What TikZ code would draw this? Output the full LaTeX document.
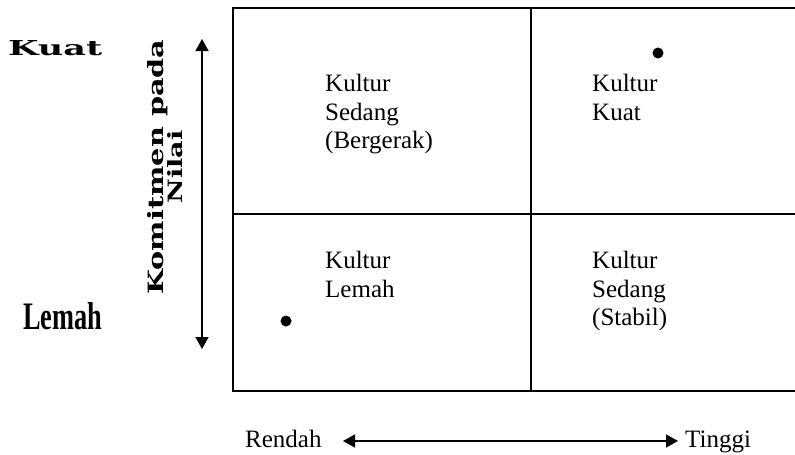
\documentclass[tikz,border=0pt]{standalone}
\usepackage{fontspec}
\setmainfont{Liberation Serif}
\newfontfamily\heavyfont{DejaVu Serif}
\usetikzlibrary{arrows.meta}

\begin{document}
\begin{tikzpicture}[x=1pt, y=-1pt,
  frameline/.style={line width=2pt},
  axisarrow/.style={line width=1.5pt, {Triangle[width=13pt,length=12pt]}-{Triangle[width=13pt,length=12pt]}},
  cell/.style={anchor=north west, align=left, inner sep=0pt, font=\fontsize{25}{28.5}\selectfont},
  plain/.style={inner sep=0pt, font=\fontsize{25}{28.5}\selectfont},
  marker/.style={fill=black, circle, inner sep=0pt, minimum size=11pt}]

  \useasboundingbox (0,0) rectangle (795,455);

  % matrix frame, open at the right edge
  \coordinate (tl) at (233,8);
  \coordinate (tr) at (796,8);
  \coordinate (bl) at (233,391);
  \coordinate (br) at (796,391);
  \coordinate (ml) at (233,214);
  \coordinate (mr) at (796,214);
  \coordinate (mt) at (531,8);
  \coordinate (mb) at (531,391);
  \draw[frameline, line cap=rect] (tr) -- (tl) -- (bl) -- (br);
  \draw[frameline] (ml) -- (mr);
  \draw[frameline] (mt) -- (mb);

  % quadrant labels
  \node[cell] (q1) at (325,74) {Kultur\\Sedang\\(Bergerak)};
  \node[cell] (q2) at (592,74) {Kultur\\Kuat};
  \node[cell] (q3) at (325,251) {Kultur\\Lemah};
  \node[cell] (q4) at (592,251) {Kultur\\Sedang\\(Stabil)};

  % position markers
  \node[marker] (d1) at (658,53) {};
  \node[marker] (d2) at (286,321) {};

  % vertical axis
  \coordinate (vtop) at (202,39);
  \coordinate (vbot) at (202,349);
  \draw[axisarrow] (vtop) -- (vbot);
  \node[anchor=base west, inner sep=0pt] (kuat) at (8,55)
    {\resizebox{94pt}{15pt}{\heavyfont\bfseries Kuat}};
  \node[anchor=base west, inner sep=0pt] (lemah) at (23,329)
    {\resizebox{79pt}{27pt}{\bfseries Lemah}};
  \node[anchor=base, rotate=90, inner sep=0pt] (komit) at (163,167)
    {\resizebox{255pt}{16pt}{\heavyfont\bfseries Komitmen pada}};
  \node[anchor=base, rotate=90, inner sep=0pt] (nilai) at (182,167)
    {\resizebox{73pt}{15pt}{\heavyfont\bfseries Nilai}};

  % horizontal axis
  \node[plain, anchor=base west] (rendah) at (245,447) {Rendah};
  \node[plain, anchor=base west] (tinggi) at (685,447) {Tinggi};
  \coordinate (hl) at (343,441);
  \coordinate (hr) at (678,441);
  \draw[axisarrow] (hl) -- (hr);
\end{tikzpicture}
\end{document}
